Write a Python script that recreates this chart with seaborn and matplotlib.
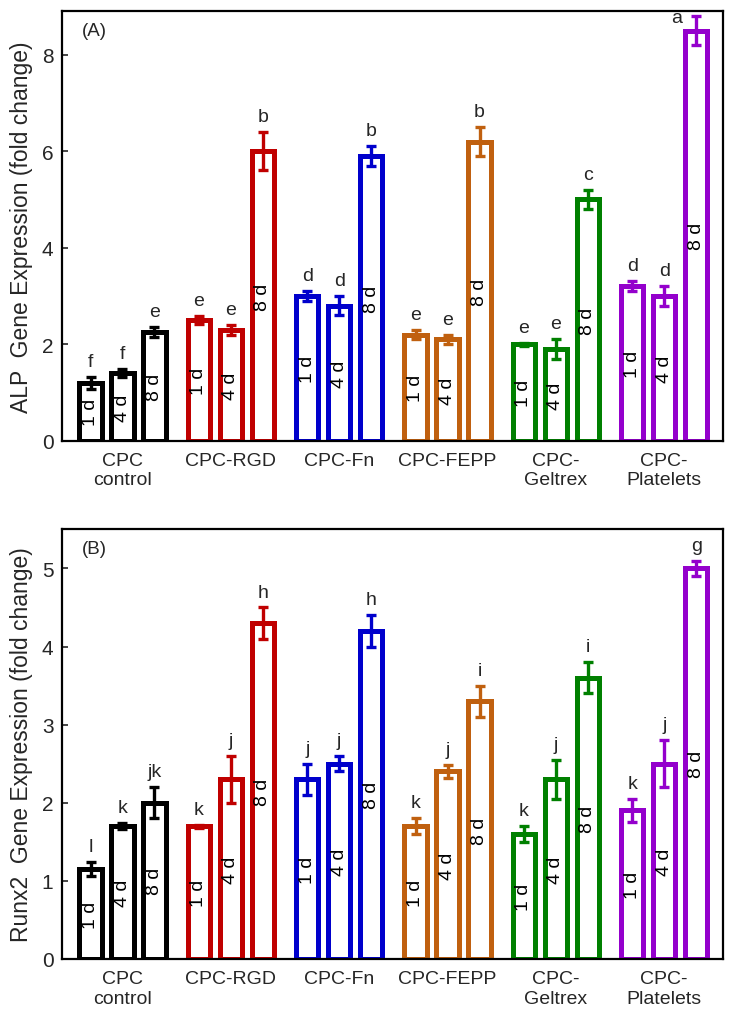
import numpy as np
import pandas as pd
import matplotlib
matplotlib.use("Agg")
import matplotlib.pyplot as plt
import seaborn as sns

sns.set_style("white")
plt.rcParams['font.family'] = ['Liberation Sans', 'DejaVu Sans']

# data
groups = ["CPC\ncontrol", "CPC-RGD", "CPC-Fn", "CPC-FEPP", "CPC-\nGeltrex", "CPC-\nPlatelets"]
days = ["1 d", "4 d", "8 d"]
colors = ["#000000", "#C00000", "#0000CC", "#C0600F", "#008000", "#9400CC"]

alp_mean = [[1.2, 1.4, 2.25], [2.5, 2.3, 6.0], [3.0, 2.8, 5.9],
            [2.2, 2.1, 6.2], [2.0, 1.9, 5.0], [3.2, 3.0, 8.5]]
alp_err = [[0.12, 0.08, 0.1], [0.08, 0.1, 0.4], [0.1, 0.2, 0.2],
           [0.1, 0.1, 0.3], [0.03, 0.2, 0.2], [0.1, 0.2, 0.3]]
alp_letters = [["f", "f", "e"], ["e", "e", "b"], ["d", "d", "b"],
               ["e", "e", "b"], ["e", "e", "c"], ["d", "d", "a"]]

runx_mean = [[1.15, 1.7, 2.0], [1.7, 2.3, 4.3], [2.3, 2.5, 4.2],
             [1.7, 2.4, 3.3], [1.6, 2.3, 3.6], [1.9, 2.5, 5.0]]
runx_err = [[0.09, 0.04, 0.2], [0.02, 0.3, 0.2], [0.2, 0.1, 0.2],
            [0.1, 0.08, 0.2], [0.1, 0.25, 0.2], [0.15, 0.3, 0.1]]
runx_letters = [["l", "k", "jk"], ["k", "j", "h"], ["j", "j", "h"],
                ["k", "j", "i"], ["k", "j", "i"], ["k", "j", "g"]]


def draw_panel(ax, means, errs, letters, ylim, yticks, ylabel, tag):
    rows = []
    for gi, g in enumerate(groups):
        for di, d in enumerate(days):
            rows.append({"group": g, "day": d, "value": means[gi][di]})
    df = pd.DataFrame(rows)
    sns.barplot(data=df, x="group", y="value", hue="day", order=groups,
                hue_order=days, errorbar=None, width=0.885, gap=0.3,
                legend=False, ax=ax)
    bar_conts = list(ax.containers)
    for di, cont in enumerate(bar_conts):
        for gi, bar in enumerate(cont):
            c = colors[gi]
            bar.set_facecolor("white")
            bar.set_edgecolor(c)
            bar.set_linewidth(3.6)
            xc = bar.get_x() + bar.get_width() / 2
            h = bar.get_height()
            e = errs[gi][di]
            ax.errorbar(xc, h, yerr=e, color=c, elinewidth=2.4, capsize=3.5,
                        capthick=2.4, zorder=5)
            ax.text(xc, h * 0.5, days[di], rotation=90, ha="center",
                    va="center", fontsize=14, color="black", zorder=6)
            top = h + e
            if top > ylim[1] * 0.96:
                ax.annotate(letters[gi][di], (xc, top), xytext=(-14, -1),
                            textcoords="offset points", ha="center",
                            va="center", fontsize=14)
            else:
                ax.annotate(letters[gi][di], (xc, top), xytext=(0, 5),
                            textcoords="offset points", ha="center",
                            va="bottom", fontsize=14)
    ax.set_xlim(-0.56, 5.54)
    ax.set_ylim(*ylim)
    ax.set_yticks(yticks)
    ax.tick_params(axis="y", direction="in", length=4, width=1.2,
                   labelsize=15, left=True, pad=6)
    ax.tick_params(axis="x", length=0, labelsize=14, pad=8)
    ax.set_xlabel("")
    ax.set_ylabel(ylabel, fontsize=16.5, labelpad=6)
    for s in ax.spines.values():
        s.set_visible(True)
        s.set_color("black")
        s.set_linewidth(1.6)
    ax.text(0.03, 0.975, tag, transform=ax.transAxes, ha="left", va="top",
            fontsize=13.5)


fig = plt.figure(figsize=(7.36, 10.2), dpi=100)
ax1 = fig.add_axes([0.084, 0.567, 0.898, 0.421])
ax2 = fig.add_axes([0.084, 0.059, 0.898, 0.421])

draw_panel(ax1, alp_mean, alp_err, alp_letters, (0, 8.9), [0, 2, 4, 6, 8],
           "ALP  Gene Expression (fold change)", "(A)")
draw_panel(ax2, runx_mean, runx_err, runx_letters, (0, 5.5), [0, 1, 2, 3, 4, 5],
           "Runx2  Gene Expression (fold change)", "(B)")

fig.savefig("out.png", dpi=100)
